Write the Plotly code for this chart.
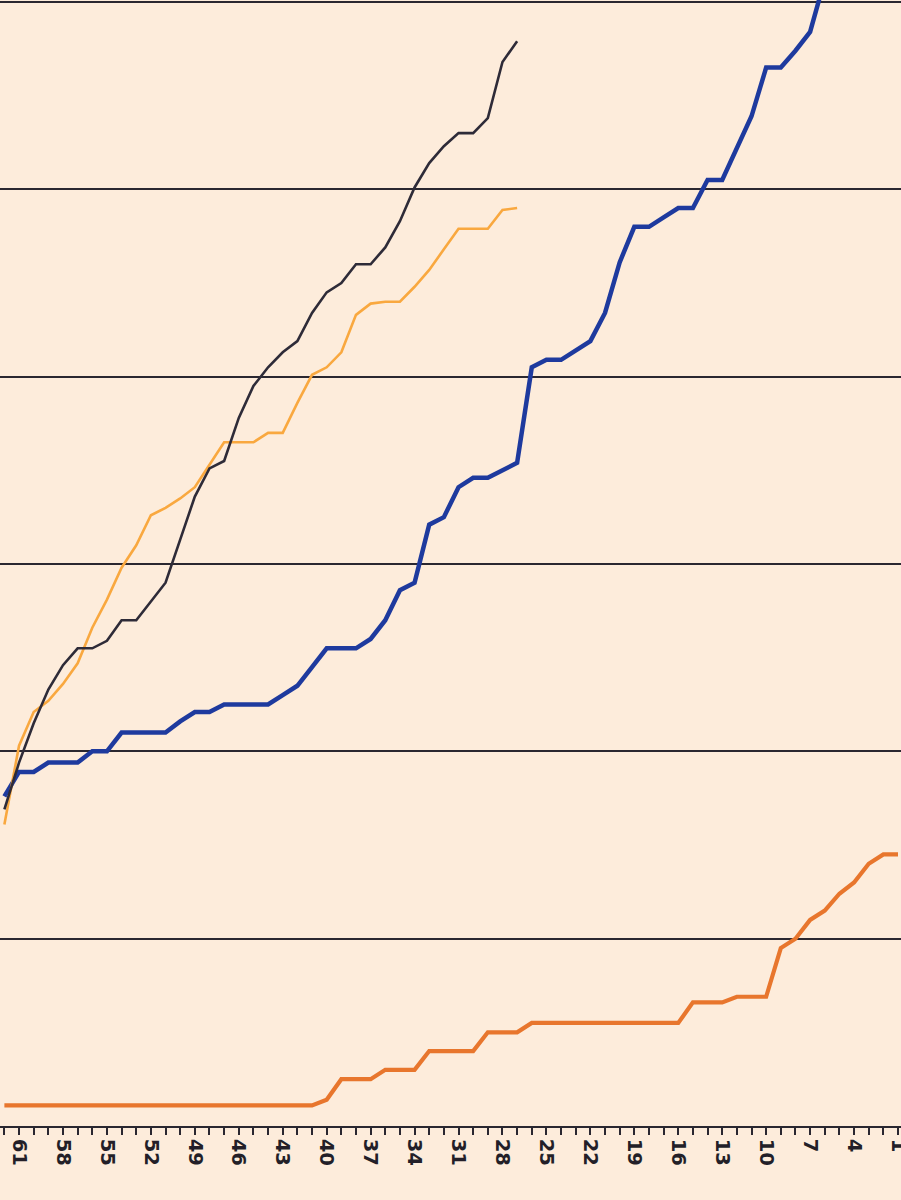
import plotly.graph_objects as go

# Day counts (x axis runs from 62 down to 1)
days_all = [62, 61, 60, 59, 58, 57, 56, 55, 54, 53, 52, 51, 50, 49, 48, 47, 46, 45, 44, 43, 42,
            41, 40, 39, 38, 37, 36, 35, 34, 33, 32, 31, 30, 29, 28, 27, 26, 25, 24, 23, 22, 21,
            20, 19, 18, 17, 16, 15, 14, 13, 12, 11, 10, 9, 8, 7, 6, 5, 4, 3, 2, 1]

# Series values
black_vals = [169, 194, 215, 233, 246, 255, 255, 259, 270, 270, 280, 290, 313, 336, 351, 355,
              378, 395, 405, 413, 419, 434, 445, 450, 460, 460, 469, 483, 501, 514, 523, 530,
              530, 538, 568, 579]
light_orange_vals = [161, 203, 221, 227, 236, 247, 266, 281, 298, 310, 326, 330, 335, 341, 353,
                     365, 365, 365, 370, 370, 386, 401, 405, 413, 433, 439, 440, 440, 448, 457,
                     468, 479, 479, 479, 489, 490]
blue_vals = [176, 189, 189, 194, 194, 194, 200, 200, 210, 210, 210, 210, 216, 221, 221, 225, 225,
             225, 225, 230, 235, 245, 255, 255, 255, 260, 270, 286, 290, 321, 325, 341, 346, 346,
             350, 354, 405, 409, 409, 414, 419, 434, 461, 480, 480, 485, 490, 490, 505, 505, 522,
             539, 565, 565, 574, 584, 612, 633]
orange_vals = [11, 11, 11, 11, 11, 11, 11, 11, 11, 11, 11, 11, 11, 11, 11, 11, 11, 11, 11, 11,
               11, 11, 14, 25, 25, 25, 30, 30, 30, 40, 40, 40, 40, 50, 50, 50, 55, 55, 55, 55,
               55, 55, 55, 55, 55, 55, 55, 66, 66, 66, 69, 69, 69, 95, 100, 110, 115, 124, 130,
               140, 145, 145]

tick_vals = [61, 58, 55, 52, 49, 46, 43, 40, 37, 34, 31, 28, 25, 22, 19, 16, 13, 10, 7, 4, 1]
tick_text = [str(v) for v in tick_vals]
grid_vals = [100, 200, 300, 400, 500, 600]

BG = "#FDECDB"
DARK = "#2A2730"

fig = go.Figure()
fig.add_trace(go.Scatter(x=days_all[:len(orange_vals)], y=orange_vals, mode="lines",
                         line=dict(color="#E8762D", width=4.2), name="orange"))
fig.add_trace(go.Scatter(x=days_all[:len(blue_vals)], y=blue_vals, mode="lines",
                         line=dict(color="#1E3A9E", width=4.5), name="blue"))
fig.add_trace(go.Scatter(x=days_all[:len(light_orange_vals)], y=light_orange_vals, mode="lines",
                         line=dict(color="#F9A83F", width=2.6), name="light orange"))
fig.add_trace(go.Scatter(x=days_all[:len(black_vals)], y=black_vals, mode="lines",
                         line=dict(color="#2E2B38", width=2.6), name="black"))

fig.update_layout(
    width=901, height=1200,
    margin=dict(l=0, r=0, t=0, b=74, pad=0, autoexpand=False),
    paper_bgcolor=BG, plot_bgcolor=BG,
    showlegend=False,
    xaxis=dict(
        range=[62.3, 0.795],
        automargin=False,
        tickmode="array", tickvals=tick_vals, ticktext=tick_text,
        tickangle=90,
        ticklabeloverflow="allow",
        tickfont=dict(family="DejaVu Sans", size=19.5, color="#231F28", weight="bold"),
        ticks="outside", ticklen=7, tickwidth=1.5, tickcolor=DARK,
        minor=dict(dtick=1, tick0=0, ticks="outside", ticklen=7, tickwidth=1.5, tickcolor=DARK),
        showline=True, linecolor=DARK, linewidth=1.5,
        showgrid=False, zeroline=False,
    ),
    yaxis=dict(
        range=[0, 601.07],
        automargin=False,
        tickmode="array", tickvals=grid_vals,
        showticklabels=False, ticks="",
        showgrid=True, gridcolor=DARK, gridwidth=1.6,
        zeroline=False, showline=False,
    ),
)

fig.write_html(
    "out.html",
    config={"displayModeBar": False},
    post_script="document.body.style.margin='0';document.body.style.padding='0';"
                "document.body.style.overflow='hidden';"
                "document.body.style.background='" + BG + "';",
)
